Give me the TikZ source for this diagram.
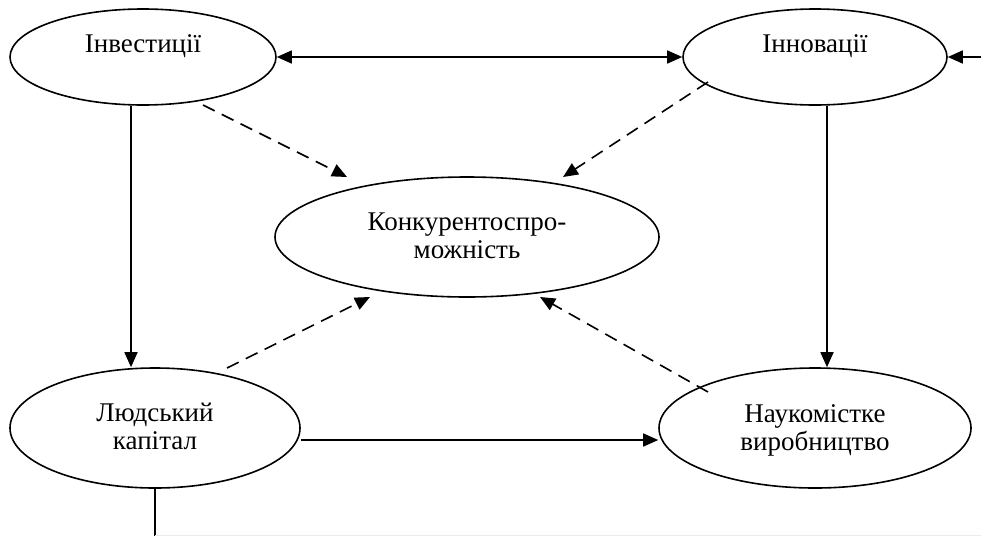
\documentclass[tikz,border=0pt]{standalone}
\usepackage{fontspec}
\setmainfont{Liberation Serif}
\usetikzlibrary{shapes.geometric,arrows.meta}
\begin{document}
\begin{tikzpicture}[x=1pt,y=-1pt,
  ell/.style={draw,ellipse,line width=1.6pt,inner sep=0pt},
  txt/.style={align=center,inner sep=0pt,font=\fontsize{27}{28}\selectfont},
  conn/.style={line width=1.6pt,-{Triangle[length=15pt,width=13pt]}},
  dconn/.style={conn,dash pattern=on 13pt off 8pt}]
\useasboundingbox (0,0) rectangle (981,536);
\node[ell,minimum width=266pt,minimum height=96pt] (inv) at (143,57) {};
\node[txt] (invt) at (143,46) {Інвестиції};
\node[ell,minimum width=264pt,minimum height=96pt] (inn) at (815,57) {};
\node[txt] (innt) at (815,46) {Інновації};
\node[ell,minimum width=384pt,minimum height=120pt] (kon) at (467,237) {};
\node[txt] (kont) at (467,236) {Конкурентоспро-\\можність};
\node[ell,minimum width=290pt,minimum height=120pt] (lud) at (155,428) {};
\node[txt] (ludt) at (155,426) {Людський\\капітал};
\node[ell,minimum width=312pt,minimum height=120pt] (nauk) at (815,428) {};
\node[txt] (naukt) at (815,430) {Наукомістке\\виробництво};
\coordinate (rin) at (981,57);
\coordinate (bot) at (155,536);
\coordinate (botr) at (981,535);
\draw[conn,{Triangle[length=15pt,width=13pt]}-{Triangle[length=15pt,width=13pt]}] (inv.east) -- (inn.west);
\draw[conn] (rin) -- (inn.east);
\draw[conn] (inv.south -| 131,0) -- (lud.north -| 131,0);
\draw[conn] (inn.south -| 827,0) -- (nauk.north -| 827,0);
\draw[conn] (lud.east |- 0,440) -- (nauk.west |- 0,440);
\draw[line width=1.6pt] (lud.south) -- (bot);
\draw[line width=0.6pt,black!8] (bot |- botr) -- (botr);
\coordinate (d1s) at (203,105); \coordinate (d1e) at (347,177);
\coordinate (d2s) at (708,82); \coordinate (d2e) at (563,177);
\coordinate (d3s) at (227,368); \coordinate (d3e) at (370,297);
\coordinate (d4s) at (708,392); \coordinate (d4e) at (540,297);
\draw[dconn] (d1s) -- (d1e);
\draw[dconn] (d2s) -- (d2e);
\draw[dconn] (d3s) -- (d3e);
\draw[dconn] (d4s) -- (d4e);
\end{tikzpicture}
\end{document}
